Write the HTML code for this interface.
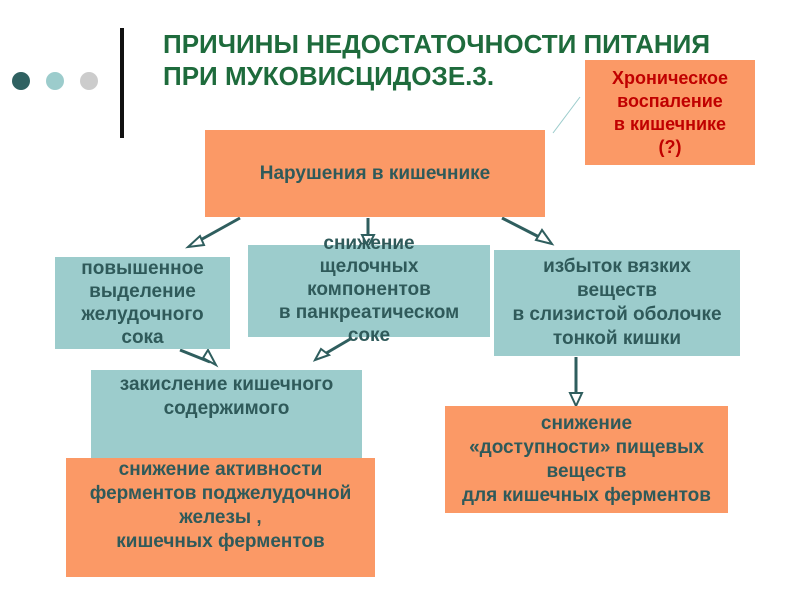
<!DOCTYPE html>
<html><head><meta charset="utf-8"><style>
body{margin:0;width:800px;height:600px;background:#fff;position:relative;overflow:hidden;font-family:"Liberation Sans",sans-serif}
.b{position:absolute;display:flex;align-items:center;justify-content:center;text-align:center;font-weight:bold;font-size:19px;line-height:23px;color:#2f5a5a;white-space:nowrap}
.o{background:#fb9966}.t{background:#9ccccc}
.dot{position:absolute;width:18px;height:18px;border-radius:50%;top:72px}
</style></head><body>
<div class="dot" style="left:12px;background:#2f6161"></div>
<div class="dot" style="left:46px;background:#9ccccc"></div>
<div class="dot" style="left:80px;background:#cccccc"></div>
<div style="position:absolute;left:120px;top:28px;width:4px;height:110px;background:#111"></div>
<div style="position:absolute;left:163px;top:28px;font-size:26px;font-weight:bold;color:#1e6b3c;line-height:32px;white-space:nowrap">ПРИЧИНЫ НЕДОСТАТОЧНОСТИ ПИТАНИЯ<br>ПРИ МУКОВИСЦИДОЗЕ.3.</div>
<svg style="position:absolute;left:0;top:0" width="800" height="600">
<g stroke="#2f5e5e" stroke-width="3" fill="none">
<line x1="553" y1="133" x2="580" y2="97" stroke="#9ccccc" stroke-width="1"/>
<line x1="240" y1="218" x2="195" y2="243"/>
<line x1="368" y1="218" x2="368" y2="237"/>
<line x1="502" y1="218" x2="545" y2="240"/>
<line x1="180" y1="350" x2="210" y2="362"/>
<line x1="352" y1="338" x2="323" y2="355"/>
<line x1="576" y1="357" x2="576" y2="395"/>
<line x1="243" y1="461" x2="243" y2="478"/>
</g>
<g fill="#fff" stroke="#2f5e5e" stroke-width="2">
<polygon points="188,247 200,236 204,245"/>
<polygon points="362,235 374,235 368,247"/>
<polygon points="552,244 536,240 542,230"/>
<polygon points="216,365 203,358 208,350"/>
<polygon points="315,360 321,349 329,355"/>
<polygon points="570,393 582,393 576,406"/>
<polygon points="237,476 249,476 243,488"/>
</g></svg>
<div class="b o" style="left:585px;top:60px;width:170px;height:105px;color:#c00000;font-size:18px;line-height:23px">Хроническое<br>воспаление<br>в кишечнике<br>(?)</div>
<div class="b o" style="left:205px;top:130px;width:340px;height:87px">Нарушения в кишечнике</div>
<div class="b t" style="left:55px;top:257px;width:175px;height:92px">повышенное<br>выделение<br>желудочного<br>сока</div>
<div class="b t" style="left:248px;top:245px;width:242px;height:92px;align-items:flex-start"><div style="margin-top:-13px">снижение<br>щелочных<br>компонентов<br>в панкреатическом<br>соке</div></div>
<div class="b t" style="left:494px;top:250px;width:246px;height:106px;line-height:24px">избыток вязких<br>веществ<br>в слизистой оболочке<br>тонкой кишки</div>
<div class="b t" style="left:91px;top:370px;width:271px;height:90px;line-height:24px;align-items:flex-start;padding-top:3px;box-sizing:border-box">закисление кишечного<br>содержимого</div>
<div class="b o" style="left:66px;top:458px;width:309px;height:119px;align-items:flex-start;line-height:24px">снижение активности<br>ферментов поджелудочной<br>железы ,<br>кишечных ферментов</div>
<div class="b o" style="left:445px;top:406px;width:283px;height:107px;line-height:24px">снижение<br>«доступности» пищевых<br>веществ<br>для кишечных ферментов</div>
</body></html>
